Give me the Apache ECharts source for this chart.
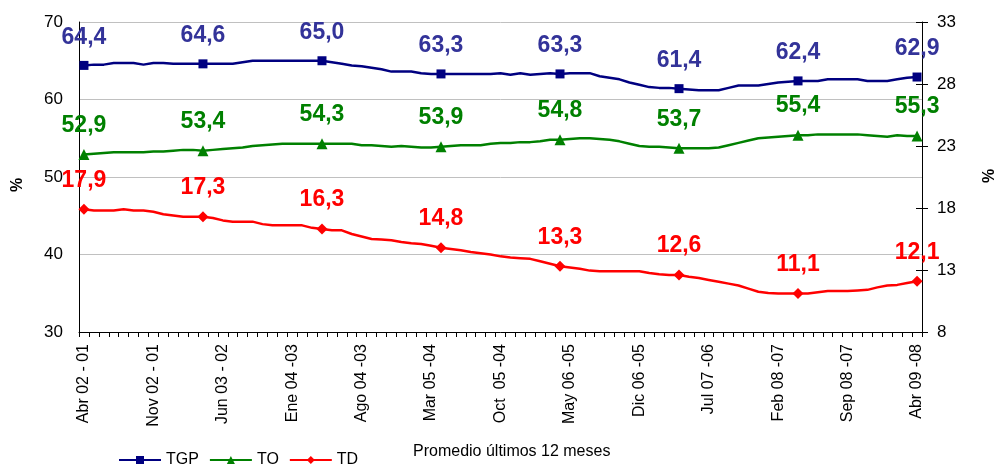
<!DOCTYPE html>
<html>
<head>
<meta charset="utf-8">
<script src="https://cdn.jsdelivr.net/npm/echarts@6/dist/echarts.min.js"></script>
<style>
  html, body { margin: 0; padding: 0; background: #fff; }
  #chart { width: 998px; height: 466px; }
</style>
</head>
<body>
<div id="chart"></div>
<script>
// Month names (Spanish) used to name each rolling 12-month period
const monthNames = ['Ene','Feb','Mar','Abr','May','Jun','Jul','Ago','Sep','Oct','Nov','Dic'];

// Labels shown on the category axis (every 7th period)
const tickLabels = [
  'Abr 02 - 01','Nov 02 - 01','Jun 03 - 02','Ene 04 -03','Ago 04 -03','Mar 05 -04',
  'Oct  05 -04','May 06 -05','Dic 06 -05','Jul 07 -06','Feb 08 -07','Sep 08 -07','Abr 09 -08'
];

// Tasa global de participación (%), left axis
const TGP = [
  64.4,64.5,64.5,64.7,64.7,64.7,64.5,64.7,64.7,64.6,64.6,64.6,
  64.6,64.6,64.6,64.6,64.8,65.0,65.0,65.0,65.0,65.0,65.0,65.0,
  65.0,64.8,64.6,64.4,64.3,64.1,63.9,63.6,63.6,63.6,63.4,63.3,
  63.3,63.3,63.3,63.3,63.3,63.3,63.4,63.2,63.4,63.2,63.3,63.4,
  63.3,63.4,63.4,63.4,63.0,62.8,62.6,62.2,61.9,61.6,61.5,61.5,
  61.4,61.3,61.2,61.2,61.2,61.5,61.8,61.8,61.8,62.0,62.2,62.3,
  62.4,62.4,62.4,62.6,62.6,62.6,62.6,62.4,62.4,62.4,62.6,62.8,
  62.9
];

// Tasa de ocupación (%), left axis
const TO = [
  52.9,53.0,53.1,53.2,53.2,53.2,53.2,53.3,53.3,53.4,53.5,53.5,
  53.4,53.5,53.6,53.7,53.8,54.0,54.1,54.2,54.3,54.3,54.3,54.3,
  54.3,54.3,54.3,54.3,54.1,54.1,54.0,53.9,54.0,53.9,53.8,53.8,
  53.9,54.0,54.1,54.1,54.1,54.3,54.4,54.4,54.5,54.5,54.6,54.8,
  54.8,54.9,55.0,55.0,54.9,54.8,54.6,54.3,54.0,53.9,53.9,53.8,
  53.7,53.7,53.7,53.7,53.8,54.1,54.4,54.7,55.0,55.1,55.2,55.3,
  55.4,55.4,55.5,55.5,55.5,55.5,55.5,55.4,55.3,55.2,55.4,55.3,
  55.3
];

// Tasa de desempleo (%), right axis
const TD = [
  17.9,17.8,17.8,17.8,17.9,17.8,17.8,17.7,17.5,17.4,17.3,17.3,
  17.3,17.2,17.0,16.9,16.9,16.9,16.7,16.6,16.6,16.6,16.6,16.4,
  16.3,16.2,16.2,15.9,15.7,15.5,15.45,15.4,15.25,15.15,15.1,14.95,
  14.8,14.7,14.6,14.45,14.35,14.25,14.1,14.0,13.95,13.9,13.7,13.5,
  13.3,13.2,13.1,12.95,12.9,12.9,12.9,12.9,12.9,12.75,12.65,12.6,
  12.6,12.45,12.35,12.2,12.05,11.9,11.75,11.5,11.25,11.15,11.1,11.1,
  11.1,11.1,11.2,11.3,11.3,11.3,11.35,11.4,11.6,11.75,11.8,11.95,
  12.1
];

// Period names: end month/year and start year of each 12-month window
const categories = TGP.map((_, i) => {
  const m = (3 + i) % 12;
  const endYear = 2 + Math.floor((3 + i) / 12);
  const pad = n => (n < 10 ? '0' : '') + n;
  return monthNames[m] + ' ' + pad(endYear) + ' -' + pad(endYear - 1);
});

const MARK_EVERY = 12;
const LABEL_EVERY = 7;

// Markers and value labels only on every 12th period
function markedData(values) {
  return values.map((v, i) => {
    const marked = i % MARK_EVERY === 0;
    const item = { value: v, label: { show: marked } };
    if (!marked) item.symbol = 'none';
    return item;
  });
}

const fmt = p => Number(p.value).toFixed(1).replace('.', ',');

const FONT = '"Liberation Sans", Arial, sans-serif';

const chart = echarts.init(document.getElementById('chart'));
chart.setOption({
  animation: false,
  backgroundColor: '#ffffff',
  grid: { left: 79, right: 76, top: 22, bottom: 134 },
  legend: {
    left: 113,
    top: 447,
    itemWidth: 42,
    itemHeight: 10,
    itemGap: 10,
    textStyle: { fontFamily: FONT, fontSize: 16, color: '#000' },
    data: ['TGP', 'TO', 'TD']
  },
  graphic: [
    {
      type: 'text', left: 413, top: 444,
      style: { text: 'Promedio últimos 12 meses', font: '16px ' + FONT, fill: '#000' }
    },
    {
      type: 'text', x: 18, y: 185, rotation: Math.PI / 2,
      style: { text: '%', font: 'bold 16px ' + FONT, fill: '#000', align: 'center', verticalAlign: 'middle' }
    },
    {
      type: 'text', x: 990, y: 176, rotation: Math.PI / 2,
      style: { text: '%', font: 'bold 16px ' + FONT, fill: '#000', align: 'center', verticalAlign: 'middle' }
    }
  ],
  xAxis: {
    type: 'category',
    data: categories,
    boundaryGap: true,
    axisLine: { lineStyle: { color: '#000', width: 1 } },
    axisTick: { show: true, interval: 0, length: 5, lineStyle: { color: '#000' } },
    axisLabel: {
      interval: 0,
      rotate: 90,
      margin: 12,
      fontFamily: FONT,
      fontSize: 16,
      color: '#000',
      formatter: (val, idx) => (idx % LABEL_EVERY === 0 ? tickLabels[idx / LABEL_EVERY] : '')
    },
    splitLine: { show: false }
  },
  yAxis: [
    {
      type: 'value', position: 'left',
      min: 30, max: 70, interval: 10,
      axisLine: { show: true, lineStyle: { color: '#000' } },
      axisTick: { show: false },
      axisLabel: { fontFamily: FONT, fontSize: 17, color: '#000', margin: 16 },
      splitLine: { show: true, lineStyle: { color: '#c0c0c0', width: 1 } }
    },
    {
      type: 'value', position: 'right',
      min: 8, max: 33, interval: 5,
      axisLine: { show: true, lineStyle: { color: '#000' } },
      axisTick: { show: true, length: 6, lineStyle: { color: '#000' } },
      axisLabel: { fontFamily: FONT, fontSize: 17, color: '#000', margin: 15 },
      splitLine: { show: false }
    },
    {
      // inner half of the crossing ticks on the right axis
      type: 'value', position: 'right',
      min: 8, max: 33, interval: 5,
      axisLine: { show: false },
      axisTick: { show: true, inside: true, length: 6, lineStyle: { color: '#000' } },
      axisLabel: { show: false },
      splitLine: { show: false }
    }
  ],
  series: [
    {
      name: 'TGP', type: 'line', yAxisIndex: 0,
      data: markedData(TGP),
      symbol: 'rect',
      symbolSize: 9,
      lineStyle: { color: '#000080', width: 2.5 },
      itemStyle: { color: '#000080' },
      label: {
        position: 'top', distance: 12, formatter: fmt,
        fontFamily: FONT, fontWeight: 'bold', fontSize: 23, color: '#333399'
      },
      z: 3
    },
    {
      name: 'TO', type: 'line', yAxisIndex: 0,
      data: markedData(TO),
      symbol: 'triangle',
      symbolSize: 11,
      lineStyle: { color: '#008000', width: 2.5 },
      itemStyle: { color: '#008000' },
      label: {
        position: 'top', distance: 12, formatter: fmt,
        fontFamily: FONT, fontWeight: 'bold', fontSize: 23, color: '#008000'
      },
      z: 3
    },
    {
      name: 'TD', type: 'line', yAxisIndex: 1,
      data: markedData(TD),
      symbol: 'diamond',
      symbolSize: 11,
      lineStyle: { color: '#ff0000', width: 2.5 },
      itemStyle: { color: '#ff0000' },
      label: {
        position: 'top', distance: 12, formatter: fmt,
        fontFamily: FONT, fontWeight: 'bold', fontSize: 23, color: '#ff0000'
      },
      z: 3
    }
  ]
});
</script>
</body>
</html>
